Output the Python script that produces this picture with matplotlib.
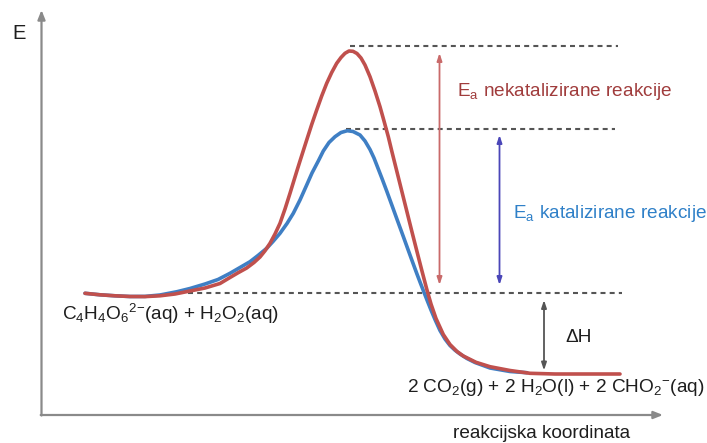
import matplotlib
matplotlib.use("Agg")
import matplotlib.pyplot as plt

plt.rcParams['font.family'] = ['Liberation Sans', 'DejaVu Sans']
plt.rcParams['mathtext.fontset'] = 'custom'
plt.rcParams['mathtext.rm'] = 'Liberation Sans'
plt.rcParams['mathtext.it'] = 'Liberation Sans:italic'
plt.rcParams['mathtext.bf'] = 'Liberation Sans:bold'

# ---- data (reaction coordinate, energy in drawing units; energy grows upward = smaller value) ----
red_x = [85, 100, 115, 130, 145, 160, 175, 190, 205, 220, 230, 238, 246.7, 254, 260, 265, 270, 275,
         280, 285, 290, 296.7, 300, 306.7, 311.7, 316.7, 321.7, 326.7, 331.7, 336.7, 341, 345, 349,
         353, 357, 361, 365, 370, 375, 380, 384, 388.3, 392, 396, 400, 404, 408, 412, 416.7, 421.7,
         426.7, 431, 436, 443.3, 450, 457, 463.3, 476, 490, 510, 530, 555, 620]
red_e = [293.3, 294.8, 295.8, 296.5, 296.6, 295.8, 294, 291, 288, 283.5, 277.5, 272.8, 268, 262.5, 257, 250.8, 243.3, 234,
         223.3, 209, 193.3, 171.5, 161, 140, 124.5, 110, 96, 83.3, 72.5, 63.3, 57.5, 53.3, 51,
         51.3, 53.5, 58, 65, 76.7, 91, 106.7, 121, 136.7, 152, 168, 184, 200, 216, 232, 250.5, 270,
         289, 304, 318.5, 334.5, 344.5, 351.5, 356, 362.3, 366.7, 370.5, 373.3, 374, 374]

blue_x = [85, 100, 115, 130, 145, 160, 177, 190, 205, 218, 230, 240, 250, 258, 266.7, 273, 280, 287,
          293.3, 300, 306.7, 312, 318.3, 323.3, 329, 335, 341, 347.3, 353, 360, 365, 370, 374, 378.3,
          382, 386.7, 392, 397, 403.3, 408, 412, 416.7, 420, 423.3, 427, 431, 435, 440, 445, 450, 455,
          460, 467, 475, 490, 510, 527]
blue_e = [293.3, 294.8, 295.8, 296.5, 296.4, 295, 291.7, 288.5, 284, 279.5, 273.3, 267.5, 261.7, 255.5, 248.3, 241.5, 233.3, 223.5,
          213.3, 200, 185, 173, 161, 151, 142.5, 136.7, 132.5, 130.7, 131.5, 135, 141, 149.5, 158, 169,
          178.5, 191, 205.5, 219.3, 236.5, 249.5, 260.5, 273.3, 282, 290.5, 300, 310, 319.5, 330.5, 339, 345.5, 350.2,
          354, 358.5, 362.5, 368, 371.5, 372.7]

reactant_level = 292.5
peak_uncat = 45.5
peak_cat = 128.5
product_level = 374

reactant_label = r'C$_\mathregular{4}$H$_\mathregular{4}$O$_\mathregular{6}$$^\mathregular{2{-}}$(aq) + H$_\mathregular{2}$O$_\mathregular{2}$(aq)'
product_label = r'2 CO$_\mathregular{2}$(g) + 2 H$_\mathregular{2}$O(l) + 2 CHO$_\mathregular{2}$$^\mathregular{-}$(aq)'
uncat_label = r'E$_\mathregular{a}$ nekatalizirane reakcije'
cat_label = r'E$_\mathregular{a}$ katalizirane reakcije'
dh_label = 'ΔH'
x_label = 'reakcijska koordinata'
y_label = 'E'

RED = '#c0504d'
BLUE = '#3f7fc4'

fig = plt.figure(figsize=(7.07, 4.43), dpi=100)
ax = fig.add_axes([0, 0, 1, 1])
ax.set_xlim(0, 707)
ax.set_ylim(443, 0)
ax.axis('off')

# axes arrows
axis_col = '#8a8a8a'
ax.annotate('', xy=(41.5, 10), xytext=(41.5, 415.5),
            arrowprops=dict(arrowstyle='-|>,head_length=0.55,head_width=0.22', color=axis_col, lw=1.6, shrinkA=0, shrinkB=0))
ax.annotate('', xy=(663, 415), xytext=(40.7, 415),
            arrowprops=dict(arrowstyle='-|>,head_length=0.55,head_width=0.22', color=axis_col, lw=1.6, shrinkA=0, shrinkB=0))

# dashed levels
dash_kw = dict(color='#555555', lw=1.5, dashes=(2.4, 2.0))
ax.plot([350, 618], [peak_uncat, peak_uncat], **dash_kw)
ax.plot([346, 615], [peak_cat, peak_cat], **dash_kw)
ax.plot([188, 622], [reactant_level, reactant_level], **dash_kw)

# curves
ax.plot(blue_x, blue_e, color=BLUE, lw=2.6, solid_capstyle='round', solid_joinstyle='round')
ax.plot(red_x, red_e, color=RED, lw=2.6, solid_capstyle='round', solid_joinstyle='round')

# double arrows
def darrow(x, y0, y1, col):
    ax.annotate('', xy=(x, y0), xytext=(x, y1),
                arrowprops=dict(arrowstyle='<|-|>,head_length=0.45,head_width=0.15', color=col, lw=1.3,
                                shrinkA=0, shrinkB=0))

darrow(439.5, peak_uncat + 7.5, reactant_level - 7.5, '#c96a6a')
darrow(499.5, peak_cat + 6.5, reactant_level - 7.5, '#4a46b8')
darrow(544, reactant_level + 7.5, product_level - 3.5, '#555555')

# texts
fs = 13.7
ax.text(19, 33, y_label, fontsize=14.5, ha='center', va='center', color='#1e1e1e')
ax.text(62, 313.5, reactant_label, fontsize=fs, ha='left', va='center', color='#1e1e1e')
ax.text(407, 387, product_label, fontsize=fs, ha='left', va='center', color='#1e1e1e')
ax.text(457, 91, uncat_label, fontsize=fs, ha='left', va='center', color='#a03c3c')
ax.text(513, 213.5, cat_label, fontsize=fs, ha='left', va='center', color='#2f80c8')
ax.text(579, 337, dh_label, fontsize=fs, ha='center', va='center', color='#1e1e1e')
ax.text(541.5, 433, x_label, fontsize=fs, ha='center', va='center', color='#1e1e1e')

fig.savefig('out.png', dpi=100)
